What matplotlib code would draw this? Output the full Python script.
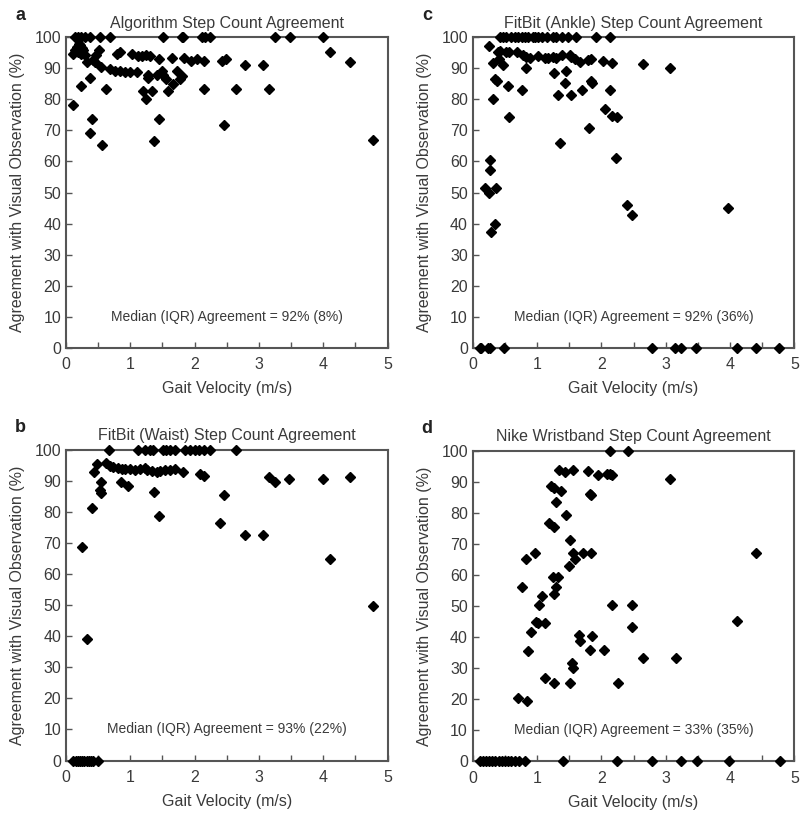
"""Step count agreement vs gait velocity, four devices."""

import matplotlib

matplotlib.use("Agg")
import matplotlib.pyplot as plt
from matplotlib.ticker import MultipleLocator

plt.rcParams["font.family"] = ["Liberation Sans", "DejaVu Sans"]

TEXT = "#3a3a3a"
EDGE = "#555555"

# a: algorithm
a_vel = [0.14, 0.19, 0.24, 0.30, 0.37, 0.53, 0.68, 1.51, 1.80, 1.82, 2.11, 2.16, 2.24, 3.25, 3.48, 3.99,
         4.11, 4.41, 4.77, 0.11, 0.41, 0.37, 0.565, 1.37, 1.45, 2.46, 0.23, 0.62, 1.20, 1.33, 1.25, 1.58,
         2.15, 2.65, 3.16, 0.38, 1.67, 1.78, 1.80, 1.72, 2.78, 3.07, 2.42, 2.48, 2.15, 2.03, 1.94, 1.83,
         1.65, 1.44, 1.31, 1.24, 1.18, 1.12, 1.02, 0.84, 0.80, 0.52, 0.46, 0.42, 0.45, 0.32, 0.55, 0.68,
         0.76, 0.84, 0.92, 1.00, 1.10, 1.27, 1.27, 1.41, 1.49, 1.51, 1.55, 0.11, 0.17, 0.22, 0.27, 0.19,
         0.24, 0.30, 0.14, 0.20, 0.25]
a_agree = [100, 100, 100, 100, 100, 100, 100, 100, 100, 100, 100, 100, 100, 100, 100, 100,
           95.3, 92.0, 66.8, 78.1, 73.6, 69.3, 65.2, 66.6, 73.8, 71.7, 84.2, 83.5, 82.7, 82.7, 80.2, 82.7,
           83.5, 83.5, 83.5, 86.9, 85.1, 86.5, 87.5, 89.2, 91.0, 91.0, 92.5, 93.0, 92.3, 93.0, 92.3, 93.5,
           93.5, 93.0, 94.0, 94.3, 94.0, 93.9, 94.7, 95.3, 94.7, 95.8, 94.5, 92.8, 92.1, 92.1, 90.6, 89.9,
           89.3, 89.3, 88.7, 88.7, 88.7, 88.0, 87.0, 87.8, 89.3, 87.8, 86.5, 94.7, 96.9, 97.5, 95.8, 95.3,
           94.7, 94.2, 95.8, 98.0, 96.5]

# c: FitBit ankle
c_vel = [0.42, 0.47, 0.52, 0.60, 0.65, 0.70, 0.76, 0.81, 0.86, 0.94, 0.96, 1.02, 1.07, 1.15, 1.25, 1.30,
         1.38, 1.48, 1.61, 1.92, 2.13,
         0.39, 0.42, 0.52, 0.57, 0.68, 0.25, 0.78, 0.83, 0.89, 1.02, 1.12, 1.17, 1.25, 1.30, 1.38, 1.51,
         1.53, 1.59, 0.41, 0.32, 0.47, 0.83, 1.66, 1.79, 1.83, 2.03, 2.16, 2.64, 3.06, 1.27, 1.45, 0.34,
         0.37, 0.55, 0.76, 1.43, 1.83, 1.85, 1.32, 1.53, 1.70, 2.14, 0.32, 2.06, 2.16, 2.24, 0.56, 1.81,
         1.35, 0.26, 2.23, 0.27, 0.19, 0.25, 0.36, 0.34, 0.29, 2.40, 2.47, 3.97,
         0.11, 0.135, 0.24, 0.26, 0.48, 2.78, 3.14, 3.23, 3.47, 4.10, 4.40, 4.76]
c_agree = [100] * 21 + [
    95.3, 95.5, 95.3, 95.3, 95.3, 97.2, 94.2, 93.8, 93.5, 94.0, 93.5, 93.5, 93.8, 93.5, 94.2, 94.5,
    93.8, 93.0, 93.0, 91.8, 91.0, 90.0, 92.1, 92.7, 93.0, 92.4, 91.8, 91.3, 90.2, 88.4, 89.1, 86.5,
    86.0, 84.3, 83.0, 85.3, 85.8, 85.3, 81.6, 81.6, 83.0, 83.0, 80.0, 76.8, 74.6, 74.4, 74.4, 70.9,
    66.0, 60.6, 61.2, 57.4, 51.5, 49.9, 51.5, 40.0, 37.2, 46.1, 42.7, 45.1] + [0] * 12

# b: FitBit waist
b_vel = [0.67, 1.12, 1.23, 1.30, 1.35, 1.51, 1.55, 1.62, 1.69, 1.85, 1.93, 2.01, 2.07, 2.15, 2.24, 2.64,
         0.48, 0.44, 0.62, 0.68, 0.73, 0.81, 0.87, 0.92, 1.00, 1.07, 1.15, 1.23, 1.26, 1.33, 1.41, 1.46,
         1.54, 1.62, 1.69, 1.82, 2.08, 2.15, 0.55, 0.53, 0.55, 0.86, 0.97, 3.15, 3.25, 3.47, 3.99, 4.41,
         1.37, 2.46, 0.41, 1.45, 2.40, 2.79, 3.07, 0.25, 0.33, 4.11, 4.77,
         0.11, 0.15, 0.19, 0.22, 0.25, 0.28, 0.32, 0.35, 0.39, 0.42, 0.49]
b_agree = [100] * 16 + [
    95.3, 92.9, 95.8, 94.7, 94.3, 94.0, 93.6, 93.6, 93.6, 93.4, 93.6, 94.0, 93.4, 93.2, 92.9, 93.2,
    93.4, 93.4, 93.6, 92.9, 92.1, 91.5, 89.6, 87.0, 85.9, 89.6, 88.3, 91.3, 89.6, 90.4, 90.4, 91.3,
    86.2, 85.4, 81.1, 78.6, 76.5, 72.5, 72.5, 68.6, 39.0, 64.8, 49.8] + [0] * 11

# d: Nike wristband
d_vel = [2.14, 2.41, 1.34, 1.44, 1.56, 1.79, 1.95, 2.09, 2.14, 2.17, 3.07, 1.21, 1.26, 1.37, 1.82, 1.83,
         1.29, 1.45, 1.18, 1.26, 1.51, 1.56, 1.59, 1.72, 1.83, 4.41, 0.83, 0.96, 1.49, 1.25, 1.33, 1.29,
         1.26, 0.77, 1.08, 1.03, 2.16, 2.47, 2.47, 4.11, 0.99, 1.02, 1.12, 0.91, 0.86, 1.65, 1.67, 1.86,
         1.82, 2.04, 2.65, 3.16, 1.55, 1.56, 1.13, 1.26, 1.51, 2.26, 0.70, 0.85,
         0.11, 0.16, 0.20, 0.25, 0.30, 0.35, 0.40, 0.45, 0.50, 0.55, 0.60, 0.65, 0.72, 0.81, 1.40, 2.24,
         2.79, 3.24, 3.48, 3.99, 4.77]
d_agree = [100, 100, 93.7, 93.1, 93.8, 93.3, 92.0, 92.5, 92.5, 92.0, 91.0, 88.5, 88.0, 87.0, 86.0, 85.8,
           83.6, 79.4, 76.8, 75.4, 71.1, 67.1, 65.2, 67.1, 67.1, 67.1, 65.2, 67.1, 62.8, 59.3, 59.3, 56.0,
           53.8, 56.0, 53.3, 50.3, 50.3, 50.3, 43.1, 45.3, 44.8, 44.5, 44.7, 41.5, 35.4, 40.6, 38.8, 40.4,
           35.9, 35.9, 33.4, 33.4, 31.6, 30.0, 27.0, 25.4, 25.4, 25.4, 20.3, 19.4] + [0] * 21

PANELS = [
    ("a", "Algorithm Step Count Agreement", a_vel, a_agree, "92% (8%)", [0.0825, 0.573, 0.402, 0.381]),
    ("c", "FitBit (Ankle) Step Count Agreement", c_vel, c_agree, "92% (36%)", [0.591, 0.573, 0.402, 0.381]),
    ("b", "FitBit (Waist) Step Count Agreement", b_vel, b_agree, "93% (22%)", [0.0825, 0.0657, 0.402, 0.382]),
    ("d", "Nike Wristband Step Count Agreement", d_vel, d_agree, "33% (35%)", [0.591, 0.0645, 0.402, 0.382]),
]


def draw_panel(fig, letter, title, vel, agree, summary, rect):
    ax = fig.add_axes(rect)
    ax.plot(vel, agree, linestyle="none", marker="D", markersize=4.6, color="black", clip_on=False, zorder=3)
    ax.set_xlim(0, 5)
    ax.set_ylim(0, 100)
    ax.xaxis.set_major_locator(MultipleLocator(1))
    ax.xaxis.set_minor_locator(MultipleLocator(0.5))
    ax.yaxis.set_major_locator(MultipleLocator(10))
    ax.tick_params(which="both", direction="in", length=4, width=1, color=EDGE,
                   labelsize=11.5, labelcolor=TEXT, top=False, right=False)
    ax.tick_params(axis="x", pad=7)
    for sp in ax.spines.values():
        sp.set_color(EDGE)
        sp.set_linewidth(1.5)
    ax.set_title(title, fontsize=11.5, color=TEXT, pad=7)
    ax.set_xlabel("Gait Velocity (m/s)", fontsize=11.5, color=TEXT, labelpad=6)
    ax.set_ylabel("Agreement with Visual Observation (%)", fontsize=11.5, color=TEXT, labelpad=7)
    ax.text(2.5, 10, f"Median (IQR) Agreement = {summary}", ha="center", va="center",
            fontsize=10, color=TEXT)
    x0, y0, w, h = rect
    fig.text(x0 - 0.057, y0 + h + 0.027, letter, fontsize=13, fontweight="bold", color="#222222",
             ha="center", va="center")
    return ax


def main():
    fig = plt.figure(figsize=(8.0, 8.14), dpi=100)
    for letter, title, vel, agree, summary, rect in PANELS:
        draw_panel(fig, letter, title, vel, agree, summary, rect)
    fig.savefig("out.png", dpi=100)
    plt.close(fig)


if __name__ == "__main__":
    main()
